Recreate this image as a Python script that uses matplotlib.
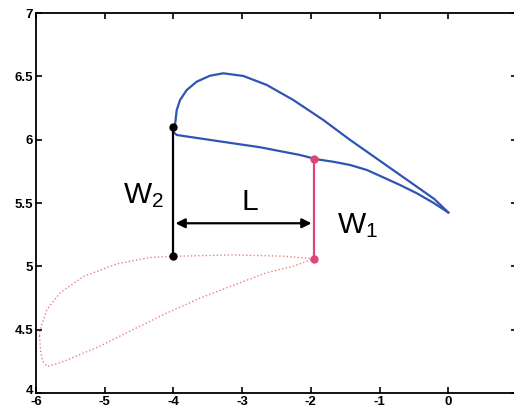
import numpy as np
import matplotlib
matplotlib.use('Agg')
import matplotlib.pyplot as plt
from matplotlib.transforms import offset_copy

plt.rcParams['font.family'] = ['Liberation Sans', 'DejaVu Sans']
plt.rcParams['mathtext.fontset'] = 'custom'
plt.rcParams['mathtext.rm'] = 'Liberation Sans'
plt.rcParams['mathtext.it'] = 'Liberation Sans'

# blue airfoil, upper and lower surface
upper_x = [-4.0, -3.977, -3.952, -3.904, -3.806, -3.661, -3.467, -3.274, -2.983,
           -2.642, -2.255, -1.818, -1.429, -0.945, -0.459, -0.2, 0.0]
upper_y = [6.10, 6.116, 6.234, 6.313, 6.392, 6.458, 6.505, 6.524, 6.503,
           6.432, 6.313, 6.155, 5.998, 5.814, 5.629, 5.53, 5.425]
lower_x = [-4.0, -3.952, -3.467, -2.739, -2.157, -1.914, -1.677, -1.429, -1.186,
           -0.949, -0.702, -0.459, -0.221, 0.0]
lower_y = [6.06, 6.037, 5.998, 5.94, 5.879, 5.845, 5.826, 5.800, 5.761,
           5.703, 5.642, 5.577, 5.503, 5.425]

# red dotted airfoil
red_top_x = [-1.96, -2.4, -3.13, -3.95, -4.34, -4.82, -5.31, -5.65, -5.84, -5.94, -5.95]
red_top_y = [5.06, 5.08, 5.09, 5.08, 5.07, 5.02, 4.92, 4.79, 4.66, 4.50, 4.45]
red_bot_x = [-5.95, -5.93, -5.9, -5.84, -5.7, -5.55, -5.07, -4.59, -4.10, -3.61,
             -3.13, -2.64, -2.26, -1.96]
red_bot_y = [4.45, 4.32, 4.25, 4.21, 4.23, 4.26, 4.37, 4.50, 4.63, 4.75,
             4.85, 4.95, 5.00, 5.06]

# width markers
w2_x = [-4.0, -4.0]
w2_y = [6.10, 5.08]
w1_x = [-1.96, -1.96]
w1_y = [5.85, 5.06]
arrow_y = 5.34

fig = plt.figure(figsize=(5.14, 4.16), dpi=100)
ax = fig.add_axes([36/514, 23/416, 481/514, 380/416])

blue = '#2f55b4'
ax.plot(upper_x, upper_y, color=blue, lw=1.6)
ax.plot(lower_x, lower_y, color=blue, lw=1.6)
ax.plot(red_top_x, red_top_y, color='#e88080', lw=1.0, ls=':')
ax.plot(red_bot_x, red_bot_y, color='#e88080', lw=1.0, ls=':')

ax.plot(w2_x, w2_y, color='black', lw=1.6, marker='o', ms=5)
ax.plot(w1_x, w1_y, color='#dc4678', lw=1.6, marker='o', ms=5)

ax.annotate('', xy=(w1_x[0] - 0.03, arrow_y), xytext=(w2_x[0] + 0.03, arrow_y),
            arrowprops=dict(arrowstyle='<|-|>', color='black', lw=1.6,
                            mutation_scale=14, shrinkA=0, shrinkB=0))

ax.text(-4.44, 5.50, r'W$_2$', fontsize=21.5, ha='center', va='baseline')
ax.text(-2.885, 5.445, 'L', fontsize=21.5, ha='center', va='baseline')
ax.text(-1.32, 5.264, r'W$_1$', fontsize=21.5, ha='center', va='baseline')

ax.set_xlim(-6, 1)
ax.set_ylim(4, 7)
ax.set_xticks(range(-6, 2))
ax.set_xticklabels([str(v) for v in range(-6, 1)] + [''])
ax.set_yticks([4, 4.5, 5, 5.5, 6, 6.5, 7])
ax.set_yticklabels(['4', '4.5', '5', '5.5', '6', '6.5', '7'])
ax.tick_params(direction='in', top=True, right=True, length=4, width=1.2,
               labelsize=9.5, pad=2)
for lab in ax.get_xticklabels() + ax.get_yticklabels():
    lab.set_fontweight('bold')
# bottom y label sits a little higher, clear of the -6
ylab0 = ax.get_yticklabels()[0]
ylab0.set_transform(offset_copy(ylab0.get_transform(), fig=fig, x=0, y=3, units='dots'))
for s in ax.spines.values():
    s.set_linewidth(1.3)

fig.savefig('out.png', dpi=100)
